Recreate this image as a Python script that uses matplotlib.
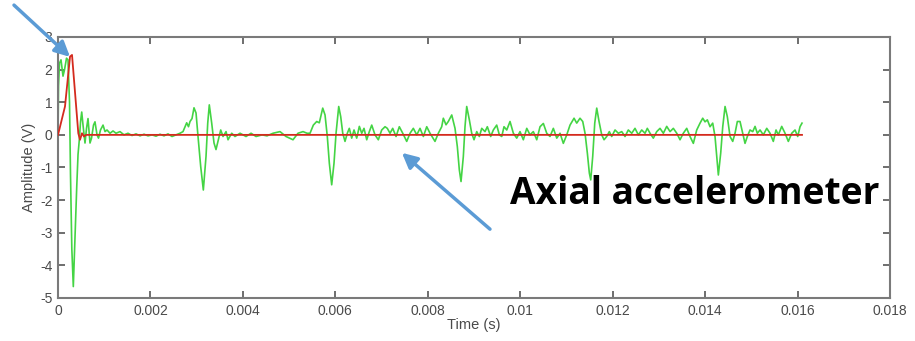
import matplotlib
matplotlib.use("Agg")
import matplotlib.pyplot as plt
import numpy as np

# Axial accelerometer trace (time in ms, amplitude in V)
accel_t_ms = [
    0.000, 0.011, 0.032, 0.065, 0.108, 0.141, 0.184, 0.216, 0.249, 0.270,
    0.299, 0.331, 0.363, 0.405, 0.433, 0.461, 0.487, 0.513, 0.541, 0.584,
    0.617, 0.649, 0.692, 0.725, 0.768, 0.800, 0.844, 0.876, 0.919, 0.974,
    1.017, 1.060, 1.125, 1.190, 1.255, 1.341, 1.428, 1.514, 1.601, 1.688,
    1.774, 1.861, 1.947, 2.034, 2.120, 2.207, 2.293, 2.380, 2.466, 2.553,
    2.639, 2.704, 2.784, 2.823, 2.856, 2.899, 2.942, 2.986, 3.029, 3.087,
    3.144, 3.202, 3.239, 3.273, 3.325, 3.375, 3.418, 3.468, 3.520, 3.570,
    3.635, 3.678, 3.758, 3.829, 3.938, 4.067, 4.176, 4.284, 4.414, 4.522,
    4.652, 4.803, 4.933, 5.084, 5.192, 5.301, 5.387, 5.452, 5.524, 5.597,
    5.653, 5.727, 5.777, 5.826, 5.870, 5.921, 5.971, 6.015, 6.073, 6.116,
    6.160, 6.209, 6.259, 6.302, 6.354, 6.404, 6.462, 6.519, 6.571, 6.620,
    6.679, 6.735, 6.787, 6.858, 6.930, 7.003, 7.075, 7.124, 7.183, 7.241,
    7.313, 7.384, 7.458, 7.544, 7.616, 7.687, 7.761, 7.832, 7.904, 7.977,
    8.048, 8.156, 8.228, 8.301, 8.336, 8.394, 8.444, 8.518, 8.589, 8.639,
    8.682, 8.719, 8.769, 8.805, 8.842, 8.899, 8.950, 9.000, 9.059, 9.115,
    9.167, 9.238, 9.288, 9.361, 9.418, 9.491, 9.548, 9.600, 9.649, 9.708,
    9.779, 9.851, 9.924, 9.995, 10.067, 10.141, 10.212, 10.283, 10.357, 10.428,
    10.500, 10.573, 10.644, 10.716, 10.790, 10.861, 10.932, 11.006, 11.077, 11.164,
    11.222, 11.293, 11.352, 11.402, 11.452, 11.495, 11.525, 11.568, 11.612, 11.655,
    11.705, 11.763, 11.813, 11.871, 11.927, 11.979, 12.051, 12.122, 12.196, 12.267,
    12.338, 12.412, 12.483, 12.555, 12.628, 12.700, 12.749, 12.808, 12.879, 12.953,
    13.024, 13.096, 13.169, 13.241, 13.312, 13.386, 13.457, 13.528, 13.602, 13.673,
    13.745, 13.818, 13.890, 13.948, 13.998, 14.048, 14.106, 14.164, 14.214, 14.251,
    14.286, 14.337, 14.381, 14.431, 14.480, 14.539, 14.597, 14.647, 14.697, 14.755,
    14.813, 14.863, 14.913, 14.971, 15.030, 15.080, 15.129, 15.188, 15.259, 15.333,
    15.404, 15.475, 15.534, 15.584, 15.657, 15.729, 15.800, 15.874, 15.945, 16.003,
    16.053, 16.096,
]
accel_v = [
    0.00, 1.50, 2.20, 2.30, 1.80, 2.00, 2.35, 2.30, 1.00, -1.20,
    -3.50, -4.65, -3.30, -1.60, -0.60, -0.15, 0.40, 0.70, 0.30, -0.25,
    0.20, 0.50, -0.25, -0.10, 0.30, 0.40, 0.00, -0.10, 0.15, 0.30,
    0.10, 0.15, 0.05, 0.12, 0.05, 0.10, 0.00, 0.05, -0.02, 0.03,
    -0.03, 0.02, -0.03, 0.00, -0.04, 0.02, -0.03, 0.03, -0.05, 0.00,
    0.05, 0.10, 0.37, 0.25, 0.41, 0.50, 0.83, 0.67, -0.05, -0.97,
    -1.69, -0.66, 0.36, 0.92, 0.36, -0.25, -0.45, -0.15, 0.15, -0.05,
    0.10, -0.15, 0.05, -0.05, 0.05, -0.05, 0.05, -0.05, 0.00, -0.03,
    0.05, 0.10, -0.05, -0.15, 0.05, 0.10, 0.05, 0.05, 0.30, 0.41,
    0.37, 0.82, 0.61, -0.05, -0.87, -1.53, -0.87, 0.05, 0.87, 0.56,
    0.05, -0.20, 0.05, 0.20, -0.10, 0.15, -0.10, 0.26, 0.05, 0.20,
    -0.15, 0.10, 0.30, 0.00, -0.15, 0.15, 0.25, 0.20, 0.05, 0.20,
    -0.05, 0.25, 0.05, -0.20, 0.05, 0.20, 0.00, 0.20, -0.05, 0.25,
    0.05, -0.20, 0.05, 0.25, 0.51, 0.31, 0.41, 0.61, 0.20, -0.36,
    -1.07, -1.43, -0.66, 0.25, 0.87, 0.46, 0.05, -0.15, 0.10, -0.05,
    0.20, 0.10, 0.25, -0.05, 0.15, 0.30, 0.00, -0.05, 0.25, 0.15,
    0.41, 0.05, -0.10, 0.10, -0.15, 0.20, 0.00, 0.10, -0.15, 0.25,
    0.35, 0.05, -0.05, 0.20, -0.10, 0.05, -0.26, 0.00, 0.30, 0.51,
    0.36, 0.51, 0.41, 0.05, -0.56, -1.17, -1.38, -0.66, 0.36, 0.82,
    0.41, 0.00, -0.15, -0.05, 0.10, -0.05, 0.15, 0.05, 0.10, -0.05,
    0.15, 0.05, 0.20, 0.00, 0.15, 0.05, 0.20, 0.05, -0.10, 0.10,
    0.20, 0.05, 0.26, 0.10, 0.20, 0.05, -0.15, 0.05, 0.20, -0.05,
    -0.26, 0.15, 0.36, 0.51, 0.40, 0.46, 0.25, 0.36, -0.05, -0.66,
    -1.23, -0.56, 0.25, 0.87, 0.56, -0.05, -0.20, 0.05, 0.41, 0.41,
    0.05, -0.26, -0.05, 0.15, 0.10, 0.26, 0.05, 0.15, 0.00, 0.20,
    0.05, -0.20, 0.15, 0.00, 0.26, 0.05, -0.20, 0.05, 0.15, -0.05,
    0.25, 0.36,
]

# Reference pulse (time in ms, amplitude in V)
pulse_t_ms = [0.000, 0.151, 0.260, 0.303, 0.439, 0.476, 0.519, 0.563, 0.606, 16.096]
pulse_v = [0.00, 0.87, 2.40, 2.45, 0.05, -0.15, 0.05, -0.05, 0.00, 0.00]

x_ticks = [0, 0.002, 0.004, 0.006, 0.008, 0.010, 0.012, 0.014, 0.016, 0.018]
x_tick_labels = ["0", "0.002", "0.004", "0.006", "0.008", "0.01", "0.012", "0.014", "0.016", "0.018"]
y_ticks = [-5, -4, -3, -2, -1, 0, 1, 2, 3]

plt.rcParams["font.family"] = ["Liberation Sans", "DejaVu Sans"]
plt.rcParams["axes.unicode_minus"] = False

t_accel = np.array(accel_t_ms) * 1e-3
t_pulse = np.array(pulse_t_ms) * 1e-3

fig = plt.figure(figsize=(9.15, 3.41), dpi=100)
ax = fig.add_axes([0.0634, 0.1261, 0.9093, 0.7654])

ax.plot(t_accel, accel_v, color="#44d444", lw=1.2, zorder=2)
ax.plot(t_pulse, pulse_v, color="#d42a1e", lw=1.3, zorder=3)

ax.set_xlim(0, 0.018)
ax.set_ylim(-5, 3)
ax.set_xticks(x_ticks)
ax.set_xticklabels(x_tick_labels)
ax.set_yticks(y_ticks)

grey = "#7a7a7a"
for side in ax.spines.values():
    side.set_color(grey)
    side.set_linewidth(1.5)
ax.tick_params(direction="in", length=5, width=1.2, color="#555555",
               top=True, right=True, labelsize=10, labelcolor="#4a4a4a", pad=4)

ax.set_xlabel("Time (s)", fontsize=10.5, color="#4a4a4a", labelpad=0)
ax.set_ylabel("Amplitude (V)", fontsize=10.5, color="#4a4a4a", labelpad=3)

# Callouts
arrow_blue = "#5b9bd5"
ax.annotate("", xy=(0.00026, 2.39), xycoords="data",
            xytext=(0.0153, 0.985), textcoords="figure fraction",
            arrowprops=dict(arrowstyle="-|>,head_length=0.9,head_width=0.45",
                            color=arrow_blue, lw=2.5, shrinkA=0, shrinkB=0),
            annotation_clip=False)
ax.annotate("", xy=(0.00744, -0.55), xycoords="data",
            xytext=(0.5355, 0.328), textcoords="figure fraction",
            arrowprops=dict(arrowstyle="-|>,head_length=0.9,head_width=0.45",
                            color=arrow_blue, lw=2.5, shrinkA=0, shrinkB=0))

fig.text(0.557, 0.402, "Axial accelerometer", family=["Open Sans", "DejaVu Sans"],
         fontweight="bold", fontsize=26.7, color="black", ha="left", va="baseline")

fig.savefig("out.png", dpi=100)
